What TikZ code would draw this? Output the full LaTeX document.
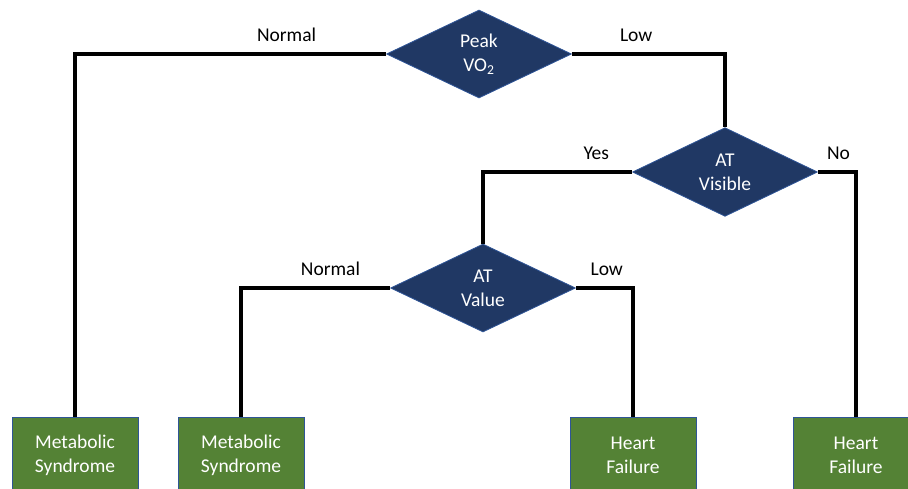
\documentclass[tikz,border=0pt]{standalone}
\usepackage{fontspec}
\setmainfont{Carlito}
\usetikzlibrary{shapes.geometric}
\definecolor{decBlue}{HTML}{203864}
\definecolor{decEdge}{HTML}{2F5597}
\definecolor{leafGreen}{HTML}{548235}
\tikzset{
  dec/.style   = {diamond, fill=decBlue, draw=decEdge, line width=0.8pt,
                  minimum width=185pt, minimum height=88pt, inner sep=0pt,
                  align=center, text=white, font=\fontsize{19.5}{24}\selectfont},
  leaf/.style  = {rectangle, fill=leafGreen, draw=decEdge, line width=0.8pt,
                  minimum width=126pt, minimum height=75pt,
                  align=center, text=white, font=\fontsize{19.5}{24}\selectfont},
  link/.style  = {line width=3.5pt, black},
  lbl/.style   = {above, inner sep=3pt, yshift=8pt, font=\fontsize{19.5}{24}\selectfont},
}
\begin{document}
\begin{tikzpicture}[x=1pt,y=-1pt]
  \useasboundingbox (0,0) rectangle (908,489);
  \clip (0,0) rectangle (908,489);
  % decisions
  \node[dec] (peak) at (479,54)  {Peak\\VO\textsubscript{2}};
  \node[dec] (vis)  at (725,172) {AT\\Visible};
  \node[dec] (val)  at (483,288) {AT\\Value};
  % outcomes
  \node[leaf] (ms1) at (75,455)  {Metabolic\\Syndrome};
  \node[leaf] (ms2) at (241,455) {Metabolic\\Syndrome};
  \node[leaf] (hf1) at (633,455) {Heart\\Failure};
  \node[leaf] (hf2) at (856,455) {Heart\\Failure};
  % branches
  \draw[link] (peak.west) -| (ms1.north) node[lbl, pos=0.16] {Normal};
  \draw[link] (peak.east) -| (vis.north) node[lbl, pos=0.21] {Low};
  \draw[link] (vis.west)  -| (val.north) node[lbl, pos=0.12] {Yes};
  \draw[link] (vis.east)  -| (hf2.north) node[lbl, pos=0.27] {No};
  \draw[link] (val.west)  -| (ms2.north) node[lbl, pos=0.20] {Normal};
  \draw[link] (val.east)  -| (hf1.north) node[lbl, pos=0.27] {Low};
\end{tikzpicture}
\end{document}
